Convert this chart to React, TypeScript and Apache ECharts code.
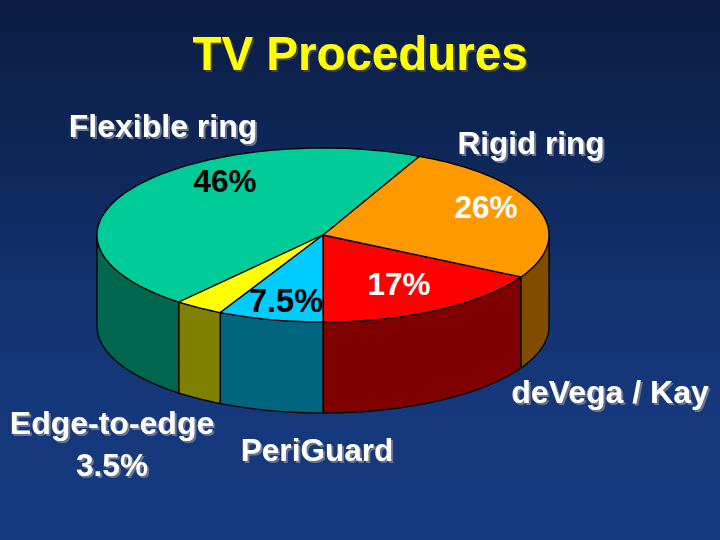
import React, { useEffect, useRef } from "react";
import * as echarts from "echarts";

const sliceNames = ["deVega / Kay", "Rigid ring", "Flexible ring", "Edge-to-edge", "PeriGuard"];
const sliceValues = [17, 26, 46, 3.5, 7.5];
const topColors = ["#FF0000", "#FF9900", "#00CC99", "#FFFF00", "#00CCFF"];
const sideColors = ["#800000", "#804D00", "#00664D", "#808000", "#006680"];

const PIE = { cx: 323, cy: 235, rx: 226, ry: 87, depth: 91 };
const SANS = '"Liberation Sans", Arial, sans-serif';

const total = sliceValues.reduce((a, b) => a + b, 0);
const startAngles: number[] = [];
sliceValues.reduce((acc, v, i) => {
  startAngles[i] = acc;
  return acc + (v / total) * 360;
}, 0);

const rimPoint = (deg: number, dy = 0): number[] => {
  const t = (deg * Math.PI) / 180;
  return [PIE.cx + PIE.rx * Math.sin(t), PIE.cy + PIE.ry * Math.cos(t) + dy];
};

const arcPoints = (a0: number, a1: number, dy = 0): number[][] => {
  const n = Math.max(2, Math.ceil(Math.abs(a1 - a0) / 1.5));
  const pts: number[][] = [];
  for (let i = 0; i <= n; i++) pts.push(rimPoint(a0 + ((a1 - a0) * i) / n, dy));
  return pts;
};

const stroke = { stroke: "#000", lineWidth: 1.3, lineJoin: "round" };

const sideItem = (params: any) => {
  const i = params.dataIndex;
  const a0 = startAngles[i];
  const a1 = a0 + (sliceValues[i] / total) * 360;
  const ranges: number[][] = [];
  if (a0 < 90) ranges.push([a0, Math.min(a1, 90)]);
  if (a1 > 270) ranges.push([Math.max(a0, 270), a1]);
  return {
    type: "group",
    children: ranges.map(([s, e]) => ({
      type: "polygon",
      shape: { points: [...arcPoints(s, e), ...arcPoints(e, s, PIE.depth)] },
      style: { fill: sideColors[i], ...stroke },
    })),
  };
};

const topItem = (params: any) => {
  const i = params.dataIndex;
  const a0 = startAngles[i];
  const a1 = a0 + (sliceValues[i] / total) * 360;
  return {
    type: "polygon",
    shape: { points: [[PIE.cx, PIE.cy], ...arcPoints(a0, a1)] },
    style: { fill: topColors[i], ...stroke },
  };
};

const label = (text: string, x: number, y: number, size: number, fill = "#fff", shadow = "rgba(110,120,140,0.95)") => ({
  type: "text",
  x,
  y,
  z: 10,
  style: {
    text,
    fill,
    font: `bold ${size}px ${SANS}`,
    textAlign: "center",
    textVerticalAlign: "middle",
    ...(shadow
      ? { textShadowColor: shadow, textShadowOffsetX: 2, textShadowOffsetY: 2, textShadowBlur: 0.6 }
      : {}),
  },
});

const pct = (i: number) => `${sliceValues[i]}%`;

export default function App() {
  const ref = useRef<HTMLDivElement>(null);
  useEffect(() => {
    document.body.style.margin = "0";
    const chart = echarts.init(ref.current!, null, { renderer: "svg" });
    chart.setOption({
      animation: false,
      backgroundColor: {
        type: "linear",
        x: 0,
        y: 0,
        x2: 0,
        y2: 1,
        colorStops: [
          { offset: 0, color: "#0A1C42" },
          { offset: 0.7, color: "#15377A" },
          { offset: 1, color: "#163A80" },
        ],
      },
      series: [
        {
          type: "custom",
          name: "sides",
          coordinateSystem: "none",
          z: 1,
          data: sliceValues.map((v, i) => ({ name: sliceNames[i], value: v })),
          renderItem: sideItem,
          silent: true,
        },
        {
          type: "custom",
          name: "tops",
          coordinateSystem: "none",
          z: 2,
          data: sliceValues.map((v, i) => ({ name: sliceNames[i], value: v })),
          renderItem: topItem,
          silent: true,
        },
      ],
      graphic: [
        label("TV Procedures", 360, 53, 47.5, "#FFFF00", "rgba(70,70,50,0.95)"),
        label(sliceNames[2], 163, 126, 32),
        label(sliceNames[1], 531, 143, 31.5),
        label(sliceNames[0], 610, 392, 32),
        label(sliceNames[3], 112, 423, 32),
        label(sliceNames[4], 317, 450, 31.5),
        label(pct(2), 225, 181, 31.5, "#000", ""),
        label(pct(1), 486, 207, 31.5, "#fff", ""),
        label(pct(0), 399, 284, 31.5, "#fff", ""),
        label(pct(4), 286, 301, 32.5, "#000", ""),
        label(pct(3), 112, 465, 31.5),
      ],
    });
    return () => chart.dispose();
  }, []);
  return <div ref={ref} style={{ position: "fixed", left: 0, top: 0, width: 720, height: 540 }} />;
}
